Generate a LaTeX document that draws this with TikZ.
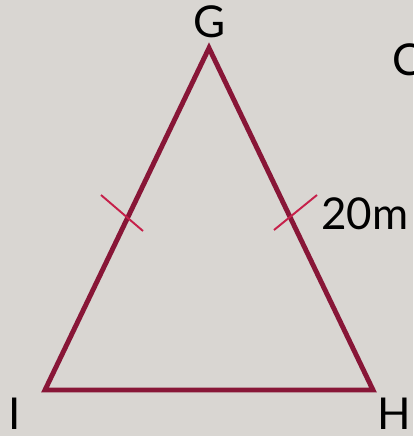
\documentclass[tikz,border=0pt]{standalone}
\usepackage{fontspec}
\setmainfont{Lato}
\usetikzlibrary{positioning}
\definecolor{bgstone}{RGB}{217,214,210}
\definecolor{sidemaroon}{RGB}{136,22,55}
\definecolor{tickred}{RGB}{198,32,74}
\begin{document}
\begin{tikzpicture}[x=0.02cm, y=-0.02cm,
  side/.style={draw=sidemaroon, line width=2.8pt, line join=miter},
  tickmark/.style={draw=tickred, line width=1.1pt},
  vlabel/.style={font=\fontsize{25}{25}\selectfont, text=black, inner sep=0pt},
]
  \clip (0,0) rectangle (413,436);
  \fill[bgstone] (0,0) rectangle (413,436);

  % vertices
  \coordinate (G) at (209,48);
  \coordinate (I) at (45,390);
  \coordinate (H) at (373,390);
  \draw[side] (G) -- (H) -- (I) -- cycle;

  % equal-side ticks
  \coordinate (tl1) at (101,195);
  \coordinate (tl2) at (143,231);
  \coordinate (tr1) at (317,195);
  \coordinate (tr2) at (274,230);
  \draw[tickmark] (tl1) -- (tl2);
  \draw[tickmark] (tr1) -- (tr2);

  % labels
  \node[vlabel] (lG) at (210,22) {G};
  \node[vlabel] (lI) at (15,414) {I};
  \node[vlabel] (lH) at (394,414) {H};
  \node[vlabel, anchor=west] (len) at (321,214) {20m};
  \node[vlabel, anchor=west] (lC) at (392,60) {C};
\end{tikzpicture}
\end{document}
